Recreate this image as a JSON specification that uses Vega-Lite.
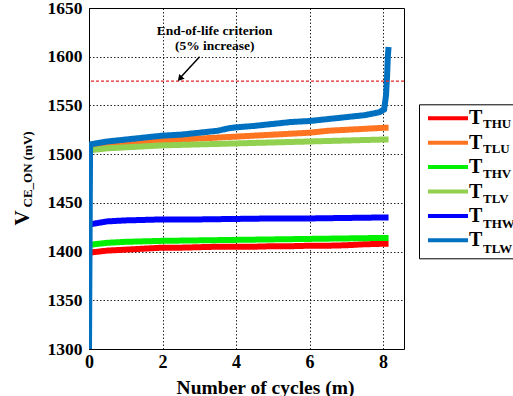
{
  "$schema": "https://vega.github.io/schema/vega-lite/v6.json",
  "width": 315,
  "height": 341,
  "autosize": {"type": "none"},
  "padding": {"left": 89, "top": 8, "right": 109, "bottom": 47},
  "background": "white",
  "config": {
    "font": "Liberation Serif",
    "view": {"stroke": "black", "strokeWidth": 1},
    "axis": {"labelFont": "Liberation Serif", "titleFont": "Liberation Serif"},
    "legend": {"labelFont": "Liberation Serif", "titleFont": "Liberation Serif"},
    "text": {"font": "Liberation Serif"}
  },
  "datasets": {
    "series": [
      {"series": "THU", "x": 0.03, "v": 1399}, {"series": "THU", "x": 0.5, "v": 1401}, {"series": "THU", "x": 1, "v": 1402}, {"series": "THU", "x": 1.5, "v": 1403}, {"series": "THU", "x": 2, "v": 1404}, {"series": "THU", "x": 2.5, "v": 1404}, {"series": "THU", "x": 3, "v": 1404.5}, {"series": "THU", "x": 3.5, "v": 1405}, {"series": "THU", "x": 4, "v": 1405}, {"series": "THU", "x": 4.5, "v": 1405}, {"series": "THU", "x": 5, "v": 1405.5}, {"series": "THU", "x": 5.5, "v": 1405.5}, {"series": "THU", "x": 6, "v": 1406}, {"series": "THU", "x": 6.5, "v": 1406}, {"series": "THU", "x": 7, "v": 1406.5}, {"series": "THU", "x": 7.5, "v": 1407.5}, {"series": "THU", "x": 8, "v": 1408}, {"series": "THU", "x": 8.15, "v": 1408},
      {"series": "TLU", "x": 0.03, "v": 1507}, {"series": "TLU", "x": 0.5, "v": 1509}, {"series": "TLU", "x": 1, "v": 1511}, {"series": "TLU", "x": 1.5, "v": 1512}, {"series": "TLU", "x": 2, "v": 1514}, {"series": "TLU", "x": 2.5, "v": 1515}, {"series": "TLU", "x": 3, "v": 1516}, {"series": "TLU", "x": 3.5, "v": 1517}, {"series": "TLU", "x": 4, "v": 1518}, {"series": "TLU", "x": 4.5, "v": 1519}, {"series": "TLU", "x": 5, "v": 1520}, {"series": "TLU", "x": 5.5, "v": 1521}, {"series": "TLU", "x": 6, "v": 1522}, {"series": "TLU", "x": 6.5, "v": 1524}, {"series": "TLU", "x": 7, "v": 1525}, {"series": "TLU", "x": 7.5, "v": 1526}, {"series": "TLU", "x": 8, "v": 1527}, {"series": "TLU", "x": 8.15, "v": 1527},
      {"series": "THV", "x": 0.03, "v": 1407}, {"series": "THV", "x": 0.5, "v": 1409}, {"series": "THV", "x": 1, "v": 1410}, {"series": "THV", "x": 1.5, "v": 1410.5}, {"series": "THV", "x": 2, "v": 1411}, {"series": "THV", "x": 3, "v": 1411.5}, {"series": "THV", "x": 4, "v": 1412}, {"series": "THV", "x": 5, "v": 1412.5}, {"series": "THV", "x": 6, "v": 1413}, {"series": "THV", "x": 7, "v": 1413.5}, {"series": "THV", "x": 8, "v": 1414}, {"series": "THV", "x": 8.15, "v": 1414},
      {"series": "TLV", "x": 0.03, "v": 1504}, {"series": "TLV", "x": 0.5, "v": 1506}, {"series": "TLV", "x": 1, "v": 1507}, {"series": "TLV", "x": 1.5, "v": 1508}, {"series": "TLV", "x": 2, "v": 1509}, {"series": "TLV", "x": 3, "v": 1510}, {"series": "TLV", "x": 4, "v": 1511}, {"series": "TLV", "x": 5, "v": 1512}, {"series": "TLV", "x": 6, "v": 1513}, {"series": "TLV", "x": 7, "v": 1514}, {"series": "TLV", "x": 8, "v": 1515}, {"series": "TLV", "x": 8.15, "v": 1515},
      {"series": "THW", "x": 0.03, "v": 1428}, {"series": "THW", "x": 0.5, "v": 1431}, {"series": "THW", "x": 1, "v": 1432}, {"series": "THW", "x": 2, "v": 1433}, {"series": "THW", "x": 3, "v": 1433}, {"series": "THW", "x": 4, "v": 1433.5}, {"series": "THW", "x": 5, "v": 1434}, {"series": "THW", "x": 6, "v": 1434}, {"series": "THW", "x": 7, "v": 1434.5}, {"series": "THW", "x": 8, "v": 1435}, {"series": "THW", "x": 8.15, "v": 1435},
      {"series": "TLW", "x": 0, "v": 1300}, {"series": "TLW", "x": 0.03, "v": 1510}, {"series": "TLW", "x": 0.5, "v": 1513}, {"series": "TLW", "x": 1, "v": 1515}, {"series": "TLW", "x": 1.5, "v": 1517}, {"series": "TLW", "x": 2, "v": 1519}, {"series": "TLW", "x": 2.5, "v": 1520}, {"series": "TLW", "x": 3, "v": 1522}, {"series": "TLW", "x": 3.5, "v": 1524}, {"series": "TLW", "x": 3.8, "v": 1526.5}, {"series": "TLW", "x": 4, "v": 1527.5}, {"series": "TLW", "x": 4.5, "v": 1529}, {"series": "TLW", "x": 5, "v": 1531}, {"series": "TLW", "x": 5.5, "v": 1533}, {"series": "TLW", "x": 6, "v": 1534}, {"series": "TLW", "x": 6.5, "v": 1536}, {"series": "TLW", "x": 7, "v": 1538}, {"series": "TLW", "x": 7.5, "v": 1540}, {"series": "TLW", "x": 7.9, "v": 1543}, {"series": "TLW", "x": 8.03, "v": 1546}, {"series": "TLW", "x": 8.08, "v": 1560}, {"series": "TLW", "x": 8.11, "v": 1580}, {"series": "TLW", "x": 8.13, "v": 1600}, {"series": "TLW", "x": 8.15, "v": 1610}
    ]
  },
  "layer": [
    {
      "data": {"name": "series"},
      "mark": {"type": "line", "strokeWidth": 6, "clip": true},
      "encoding": {
        "x": {
          "field": "x", "type": "quantitative",
          "scale": {"domain": [0, 8.57], "nice": false, "zero": false},
          "axis": {
            "title": "Number of cycles (m)",
            "values": [0, 2, 4, 6, 8], "format": "d",
            "grid": true, "gridColor": "black", "gridDash": [1.5, 2], "gridOpacity": 0.85, "gridWidth": 1,
            "domain": false, "ticks": false, "labelFlush": false,
            "labelFont": "Liberation Serif", "labelFontSize": 18, "labelFontWeight": "bold", "labelColor": "black", "labelPadding": 4,
            "titleFont": "Liberation Serif", "titleFontSize": 19.5, "titleFontWeight": "bold", "titleColor": "black",
            "titleX": 176, "titleY": 44, "titleBaseline": "alphabetic"
          }
        },
        "y": {
          "field": "v", "type": "quantitative",
          "scale": {"domain": [1300, 1650], "nice": false, "zero": false},
          "axis": {
            "title": "V",
            "values": [1300, 1350, 1400, 1450, 1500, 1550, 1600, 1650], "format": "d",
            "grid": true, "gridColor": "black", "gridDash": [1.5, 2], "gridOpacity": 0.85, "gridWidth": 1,
            "domain": false, "ticks": false,
            "labelFont": "Liberation Serif", "labelFontSize": 17.5, "labelFontWeight": "bold", "labelColor": "black", "labelPadding": 7,
            "titleFont": "Liberation Serif", "titleFontSize": 21, "titleFontWeight": "bold", "titleColor": "black",
            "titleAngle": -90, "titleAlign": "left", "titleBaseline": "middle",
            "titleX": -67, "titleY": 217
          }
        },
        "color": {
          "field": "series", "type": "nominal",
          "scale": {
            "domain": ["THU", "TLU", "THV", "TLV", "THW", "TLW"],
            "range": ["#ff0000", "#ff7420", "#00f000", "#92d050", "#0000ff", "#0070c0"]
          },
          "legend": {
            "orient": "none", "legendX": 330, "legendY": 96.3, "direction": "vertical",
            "title": null,
            "symbolType": "M-1,0L3,0", "symbolSize": 400, "symbolStrokeWidth": 4, "symbolOffset": 5,
            "labelExpr": "'T'",
            "labelFont": "Liberation Serif", "labelFontSize": 20, "labelFontWeight": "bold", "labelColor": "black", "labelOffset": 19,
            "rowPadding": 2.4, "padding": 2
          }
        },
        "strokeDash": {
          "field": "series", "type": "nominal",
          "scale": {
            "domain": ["THU", "TLU", "THV", "TLV", "THW", "TLW", "none"],
            "range": [[1, 0], [1, 0], [1, 0], [1, 0], [1, 0], [1, 0], [1, 0]]
          },
          "legend": {
            "orient": "none", "legendX": 330, "legendY": 96.3, "direction": "vertical",
            "title": null,
            "values": ["THU", "TLU", "THV", "TLV", "THW", "TLW"],
            "symbolType": "M-1,0L3,0", "symbolSize": 400, "symbolStrokeWidth": 4, "symbolOpacity": 0,
            "labelFont": "Liberation Serif", "labelFontSize": 13, "labelFontWeight": "bold", "labelColor": "black", "labelOffset": 38,
            "labelBaseline": "top",
            "rowPadding": -0.7, "padding": 2,
            "strokeColor": "black"
          }
        }
      }
    },
    {
      "data": {"values": [{"v": 1575}]},
      "mark": {"type": "rule", "color": "#e3262b", "strokeDash": [3, 2], "strokeWidth": 1.3},
      "encoding": {
        "y": {
          "field": "v", "type": "quantitative",
          "axis": {
            "orient": "left",
            "title": "CE_ON (mV)",
            "labels": false, "ticks": false, "domain": false, "grid": false,
            "titleFont": "Liberation Serif", "titleFontSize": 13, "titleFontWeight": "bold", "titleColor": "black",
            "titleAngle": -90, "titleAlign": "left", "titleBaseline": "middle",
            "titleX": -62, "titleY": 199
          }
        }
      }
    },
    {
      "data": {"values": [
        {"x": 3.42, "v": 1622.6, "label": "End-of-life criterion"},
        {"x": 3.42, "v": 1607.4, "label": "(5% increase)"}
      ]},
      "mark": {"type": "text", "font": "Liberation Serif", "fontSize": 13.5, "fontWeight": "bold", "color": "black", "align": "center", "baseline": "alphabetic"},
      "encoding": {
        "x": {"field": "x", "type": "quantitative"},
        "y": {"field": "v", "type": "quantitative", "axis": null},
        "text": {"field": "label"}
      }
    },
    {
      "data": {"values": [{"x": 3.01, "v": 1600, "x2": 2.47, "v2": 1578}]},
      "mark": {"type": "rule", "color": "black", "strokeWidth": 1.5},
      "encoding": {
        "x": {"field": "x", "type": "quantitative"},
        "y": {"field": "v", "type": "quantitative", "axis": null},
        "x2": {"field": "x2"},
        "y2": {"field": "v2"}
      }
    },
    {
      "data": {"values": [{"x": 2.49, "v": 1578.3}]},
      "mark": {"type": "point", "shape": "triangle", "angle": 221, "filled": true, "color": "black", "size": 50, "opacity": 1},
      "encoding": {
        "x": {"field": "x", "type": "quantitative"},
        "y": {"field": "v", "type": "quantitative", "axis": null}
      }
    }
  ],
  "resolve": {"axis": {"y": "independent"}}
}
